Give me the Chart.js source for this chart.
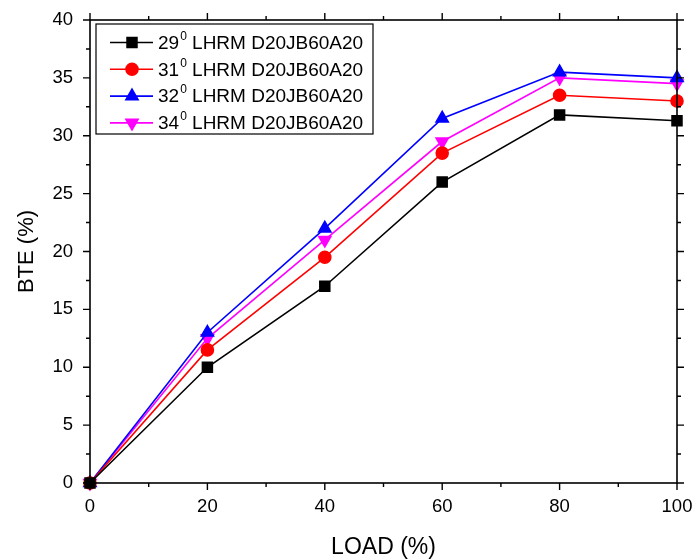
<!DOCTYPE html>
<html>
<head>
<meta charset="utf-8">
<script src="https://cdn.jsdelivr.net/npm/chart.js@4/dist/chart.umd.min.js"></script>
<style>
  html, body { margin: 0; padding: 0; background: #fff; }
  #wrap { width: 694px; height: 559px; }
</style>
</head>
<body>
<div id="wrap"><canvas id="myChart" width="694" height="559"></canvas></div>
<script>
const loads = [0, 20, 40, 60, 80, 100];
const bte29 = [0, 10, 17, 26, 31.8, 31.3];
const bte31 = [0, 11.5, 19.5, 28.5, 33.5, 33];
const bte32 = [0, 13, 22, 31.5, 35.5, 35];
const bte34 = [0, 12.5, 21, 29.5, 35, 34.5];
const seriesNames = ['29\u2070 LHRM D20JB60A20', '31\u2070 LHRM D20JB60A20', '32\u2070 LHRM D20JB60A20', '34\u2070 LHRM D20JB60A20'];
const xTicks = [0, 20, 40, 60, 80, 100];
const yTicks = [0, 5, 10, 15, 20, 25, 30, 35, 40];

const FONT = 'Arial, "Liberation Sans", sans-serif';

function pts(vals) {
    return loads.map((x, i) => ({ x: x, y: vals[i] }));
}

// box round the plot, major and minor ticks on all four sides, and the legend
const frame = {
    id: 'frame',
    afterDraw(chart) {
        const { ctx, chartArea: a, scales } = chart;
        const xs = scales.x, ys = scales.y;
        ctx.save();
        ctx.strokeStyle = '#000';
        ctx.lineWidth = 1.6;
        ctx.strokeRect(a.left, a.top, a.right - a.left, a.bottom - a.top);
        ctx.lineWidth = 1.4;
        ctx.beginPath();
        for (let v = 0; v <= 100; v += 10) {
            const px = xs.getPixelForValue(v);
            const len = v % 20 === 0 ? 7 : 4;
            ctx.moveTo(px, a.bottom); ctx.lineTo(px, a.bottom + len);
            ctx.moveTo(px, a.top); ctx.lineTo(px, a.top - len);
        }
        for (let v = 0; v <= 40; v += 2.5) {
            const py = ys.getPixelForValue(v);
            const len = v % 5 === 0 ? 7 : 4;
            ctx.moveTo(a.left, py); ctx.lineTo(a.left - len, py);
            ctx.moveTo(a.right, py); ctx.lineTo(a.right + len, py);
        }
        ctx.stroke();

        // legend box
        const lx = 96, ly = 24, lw = 277, lh = 110, row = 26.8;
        ctx.lineWidth = 1.2;
        ctx.strokeRect(lx, ly, lw, lh);
        ctx.textBaseline = 'middle';
        chart.data.datasets.forEach((ds, i) => {
            const cy = ly + 18.5 + i * row;
            ctx.strokeStyle = ds.borderColor;
            ctx.lineWidth = 1.6;
            ctx.beginPath();
            ctx.moveTo(lx + 14, cy); ctx.lineTo(lx + 57, cy);
            ctx.stroke();
            ctx.fillStyle = ds.backgroundColor;
            Chart.helpers.drawPoint(ctx, {
                pointStyle: ds.pointStyle,
                rotation: ds.pointRotation || 0,
                radius: ds.pointRadius,
                borderWidth: 1
            }, lx + 36, cy);
            // label with a small raised zero
            const parts = ds.label.split('\u2070');
            ctx.fillStyle = '#000';
            let tx = lx + 62;
            ctx.font = '19px ' + FONT;
            ctx.fillText(parts[0], tx, cy + 1);
            tx += ctx.measureText(parts[0]).width + 1;
            ctx.font = '12px ' + FONT;
            ctx.fillText('0', tx, cy - 6);
            tx += ctx.measureText('0').width;
            ctx.font = '19px ' + FONT;
            ctx.fillText(parts[1], tx, cy + 1);
        });
        ctx.restore();
    }
};

function makeSet(label, vals, color, style, rot, r) {
    return {
        label: label,
        data: pts(vals),
        borderColor: color,
        backgroundColor: color,
        pointBackgroundColor: color,
        pointBorderColor: color,
        pointStyle: style,
        pointRotation: rot || 0,
        pointRadius: r,
        borderWidth: 1.6,
        fill: false,
        tension: 0
    };
}

const ctx = document.getElementById('myChart').getContext('2d');
const myChart = new Chart(ctx, {
    type: 'line',
    data: {
        datasets: [
            makeSet(seriesNames[0], bte29, '#000000', 'rect', 0, 7),
            makeSet(seriesNames[1], bte31, '#ff0000', 'circle', 0, 6),
            makeSet(seriesNames[2], bte32, '#0000ff', 'triangle', 0, 7),
            makeSet(seriesNames[3], bte34, '#ff00ff', 'triangle', 180, 7)
        ]
    },
    options: {
        responsive: false,
        animation: false,
        clip: false,
        layout: { padding: { left: 0, right: 17, top: 20, bottom: 0 } },
        plugins: {
            legend: { display: false },
            tooltip: { enabled: false }
        },
        scales: {
            x: {
                type: 'linear',
                min: 0,
                max: 100,
                afterBuildTicks: s => { s.ticks = xTicks.map(v => ({ value: v })); },
                afterFit: s => { s.height = 76; s.paddingLeft = 0; s.paddingRight = 0; },
                grid: { display: false },
                border: { display: false },
                ticks: { color: '#000', font: { family: FONT, size: 18.5 }, padding: 5, maxRotation: 0 },
                title: { display: true, text: 'LOAD (%)', color: '#000', font: { family: FONT, size: 23 }, padding: { top: 0, bottom: -2 } }
            },
            y: {
                type: 'linear',
                min: 0,
                max: 40,
                afterBuildTicks: s => { s.ticks = yTicks.map(v => ({ value: v })); },
                afterFit: s => { s.width = 90; s.paddingTop = 0; s.paddingBottom = 0; },
                grid: { display: false },
                border: { display: false },
                ticks: { color: '#000', font: { family: FONT, size: 18.5 }, padding: 9 },
                title: { display: true, text: 'BTE (%)', color: '#000', font: { family: FONT, size: 22 }, padding: { top: 14, bottom: 0 } }
            }
        }
    },
    plugins: [frame]
});
</script>
</body>
</html>
